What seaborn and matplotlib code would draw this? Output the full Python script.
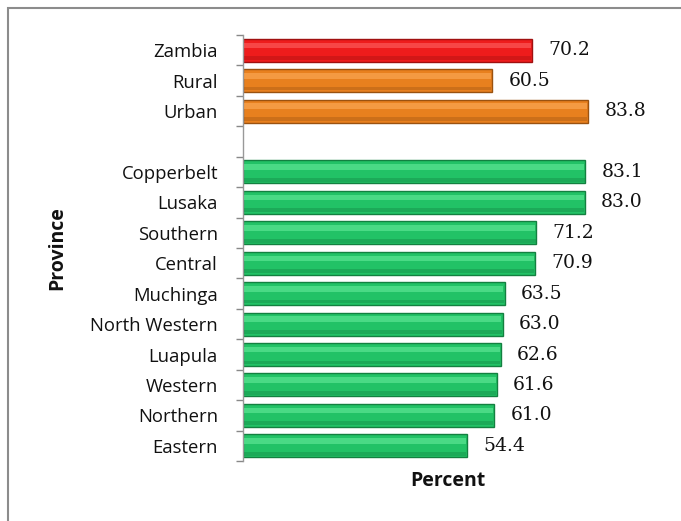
import matplotlib
matplotlib.use("Agg")
import matplotlib.pyplot as plt
from matplotlib.patches import Rectangle
import seaborn as sns
import pandas as pd
import numpy as np

categories = ["Zambia", "Rural", "Urban", "Copperbelt", "Lusaka", "Southern", "Central",
              "Muchinga", "North Western", "Luapula", "Western", "Northern", "Eastern"]
values = [70.2, 60.5, 83.8, 83.1, 83.0, 71.2, 70.9, 63.5, 63.0, 62.6, 61.6, 61.0, 54.4]
groups = ["National", "Residence", "Residence"] + ["Province"] * 10
order = ["Zambia", "Rural", "Urban", " ", "Copperbelt", "Lusaka", "Southern", "Central",
         "Muchinga", "North Western", "Luapula", "Western", "Northern", "Eastern"]

palette = {"National": "#EE1C1C", "Residence": "#E8801E", "Province": "#22C266"}
edge = {"National": "#A01010", "Residence": "#9A5210", "Province": "#138040"}
light = {"National": "#FF6A6A", "Residence": "#FFB060", "Province": "#6CEFA0"}

df = pd.DataFrame({"cat": categories, "val": values, "grp": groups})

sns.set_style("white")
fig = plt.figure(figsize=(6.81, 5.21), dpi=100)
ax = fig.add_axes([243 / 681, 1 - 461 / 521, 412 / 681, (461 - 35) / 521])

sns.barplot(data=df, y="cat", x="val", hue="grp", order=order, palette=palette,
            dodge=False, orient="h", width=0.76, ax=ax, legend=False, saturation=1)
for p in ax.patches:
    p.set_linewidth(0)

sns.barplot(data=df, y="cat", x="val", hue="grp", order=order, palette=edge,
            dodge=False, orient="h", width=0.76, ax=ax, legend=False, saturation=1,
            fill=False, linewidth=1.0)

pos = {c: i for i, c in enumerate(order)}
for c, v, g in zip(categories, values, groups):
    y = pos[c]
    ax.barh(y - 0.16, v - 0.6, height=0.18, left=0.3, color=light[g], alpha=0.55,
            linewidth=0, zorder=3)
    ax.barh(y + 0.26, v - 0.4, height=0.12, left=0.2, color=edge[g], alpha=0.35,
            linewidth=0, zorder=3)
    ax.text(v + 3.9, y, f"{v:.1f}", va="center", ha="left",
            fontsize=13.5, family="DejaVu Serif", color="#111111")

ax.set_xlim(0, 100)
ax.set_ylim(13.5, -0.5)
ax.set_xticks([])
ax.set_yticks(range(len(order)))
ax.set_yticklabels(order, fontsize=13.3, family="Open Sans", color="#111111")
ax.set_yticks(np.arange(-0.5, len(order), 1), minor=True)
ax.tick_params(axis="y", which="major", length=0, pad=18)
ax.tick_params(axis="y", which="minor", length=5, color="#888888", width=1, left=True)

for s in ["top", "right", "bottom"]:
    ax.spines[s].set_visible(False)
ax.spines["left"].set_color("#999999")
ax.spines["left"].set_linewidth(1)

ax.set_ylabel("")
ax.set_xlabel("")
fig.text(448 / 681, 1 - 481 / 521, "Percent", ha="center", va="center",
         fontsize=14, fontweight="bold", family="Open Sans", color="#111111")
fig.text(57 / 681, 1 - 248 / 521, "Province", ha="center", va="center", rotation=90,
         fontsize=14, fontweight="bold", family="Open Sans", color="#111111")

fig.patches.append(Rectangle((8 / 681, -0.1), 1.1, 1.1 - 8 / 521,
                             transform=fig.transFigure, fill=False,
                             edgecolor="#8C8C8C", linewidth=1.5))

fig.savefig("out.png", dpi=100)
